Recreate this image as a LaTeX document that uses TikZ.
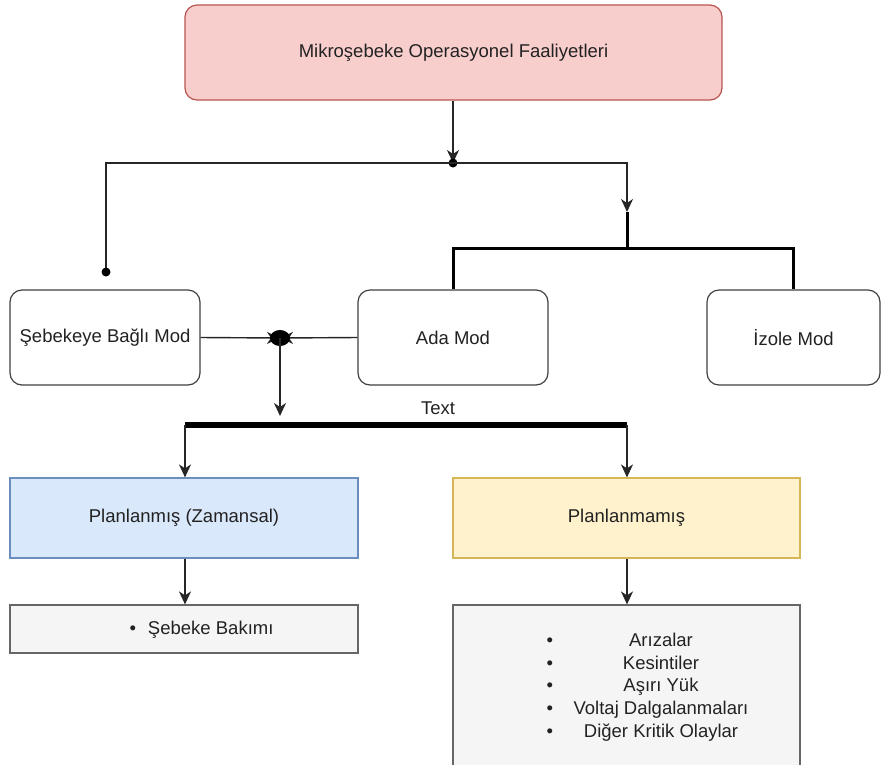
\documentclass[tikz,border=0pt]{standalone}
\usepackage{fontspec}
\setmainfont{Liberation Sans}
\usetikzlibrary{arrows.meta}
\definecolor{pinkfill}{HTML}{F8CECC}
\definecolor{pinkline}{HTML}{B85450}
\definecolor{bluefill}{HTML}{DAE8FC}
\definecolor{blueline}{HTML}{6C8EBF}
\definecolor{yelfill}{HTML}{FFF2CC}
\definecolor{yelline}{HTML}{D6B656}
\definecolor{grayfill}{HTML}{F5F5F5}
\definecolor{grayline}{HTML}{666666}
\definecolor{txt}{HTML}{222222}
\begin{document}
\begin{tikzpicture}[x=1pt,y=-1pt,
  every node/.style={font=\fontsize{18.5}{22}\selectfont, text=txt},
  rbox/.style={draw=black!75, line width=1.2pt, rounded corners=12pt, fill=white, minimum height=95pt, inner sep=0pt},
  sbox/.style={draw, line width=1.2pt, inner sep=0pt},
  conn/.style={line width=1.4pt, draw=black!85},
  tip/.style={-{Stealth[length=13pt,width=12pt,inset=4pt]}},
]
\useasboundingbox (0,0) rectangle (888,764);

\node[rbox, draw=pinkline, fill=pinkfill, minimum width=537pt] (top) at (453.5,52.5) {Mikroşebeke Operasyonel Faaliyetleri};
\node[rbox, minimum width=190pt] (seb) at (105,337.5) {Şebekeye Bağlı Mod};
\node[rbox, minimum width=190pt] (ada) at (453,337.5) {Ada Mod};
\node[rbox, minimum width=173pt] (izo) at (793.5,337.5) {İzole Mod};

\node[sbox, draw=blueline, fill=bluefill, minimum width=348pt, minimum height=80pt] (plan) at (184,518) {Planlanmış (Zamansal)};
\node[sbox, draw=yelline, fill=yelfill, minimum width=347pt, minimum height=80pt] (unpl) at (626.5,518) {Planlanmamış};
\node[sbox, draw=grayline, fill=grayfill, minimum width=348pt, minimum height=48pt] (bak) at (184,629) {};
\node[sbox, draw=grayline, fill=grayfill, minimum width=347pt, minimum height=170pt] (krit) at (626.5,690) {};
\node[anchor=west] (baktxt) at (126,630) {•\hspace{12pt}Şebeke Bakımı};
\node[anchor=west, align=left, font=\fontsize{18.5}{22.7}\selectfont] (krittxt) at (543,687)
  {•\hspace{10pt}\makebox[196pt]{Arızalar}\\
   •\hspace{10pt}\makebox[196pt]{Kesintiler}\\
   •\hspace{10pt}\makebox[196pt]{Aşırı Yük}\\
   •\hspace{10pt}\makebox[196pt]{Voltaj Dalgalanmaları}\\
   •\hspace{10pt}\makebox[196pt]{Diğer Kritik Olaylar}};

% top splitting
\coordinate (j1) at (453,163);
\coordinate (lt) at (106,163);
\coordinate (ld) at (106,272);
\coordinate (rt) at (627,163);
\coordinate (ra) at (627,212);
\coordinate (rb) at (627,248);
\draw[conn, tip] (top.south -| j1) -- (j1);
\fill (j1) circle (4.5pt);
\draw[conn] (j1) -- (lt) -- (ld);
\fill (ld) circle (4.5pt);
\draw[conn, tip] (j1) -- (rt) -- (ra);
\draw[line width=3pt] (ra) -- (rb);
\draw[line width=3pt] (ada.north) |- (rb) -| (izo.north);

% middle blob
\coordinate (b) at (280,338);
\coordinate (bd) at (280,416);
\draw[conn, tip] (seb.east) -- (b);
\draw[conn, tip] (ada.west) -- (b);
\fill (b) ellipse (10pt and 8pt);
\draw[conn, tip] (b) -- (bd);

\node (lbl) at (438,408) {Text};
\coordinate (bl) at (185,425);
\coordinate (br) at (627,425);
\draw[line width=6pt] (bl) -- (br);
\draw[conn, tip] (bl) -- (bl |- plan.north);
\draw[conn, tip] (br) -- (br |- unpl.north);

\draw[conn, tip] (plan.south -| bl) -- (bak.north -| bl);
\draw[conn, tip] (unpl.south -| br) -- (krit.north -| br);
\end{tikzpicture}
\end{document}
